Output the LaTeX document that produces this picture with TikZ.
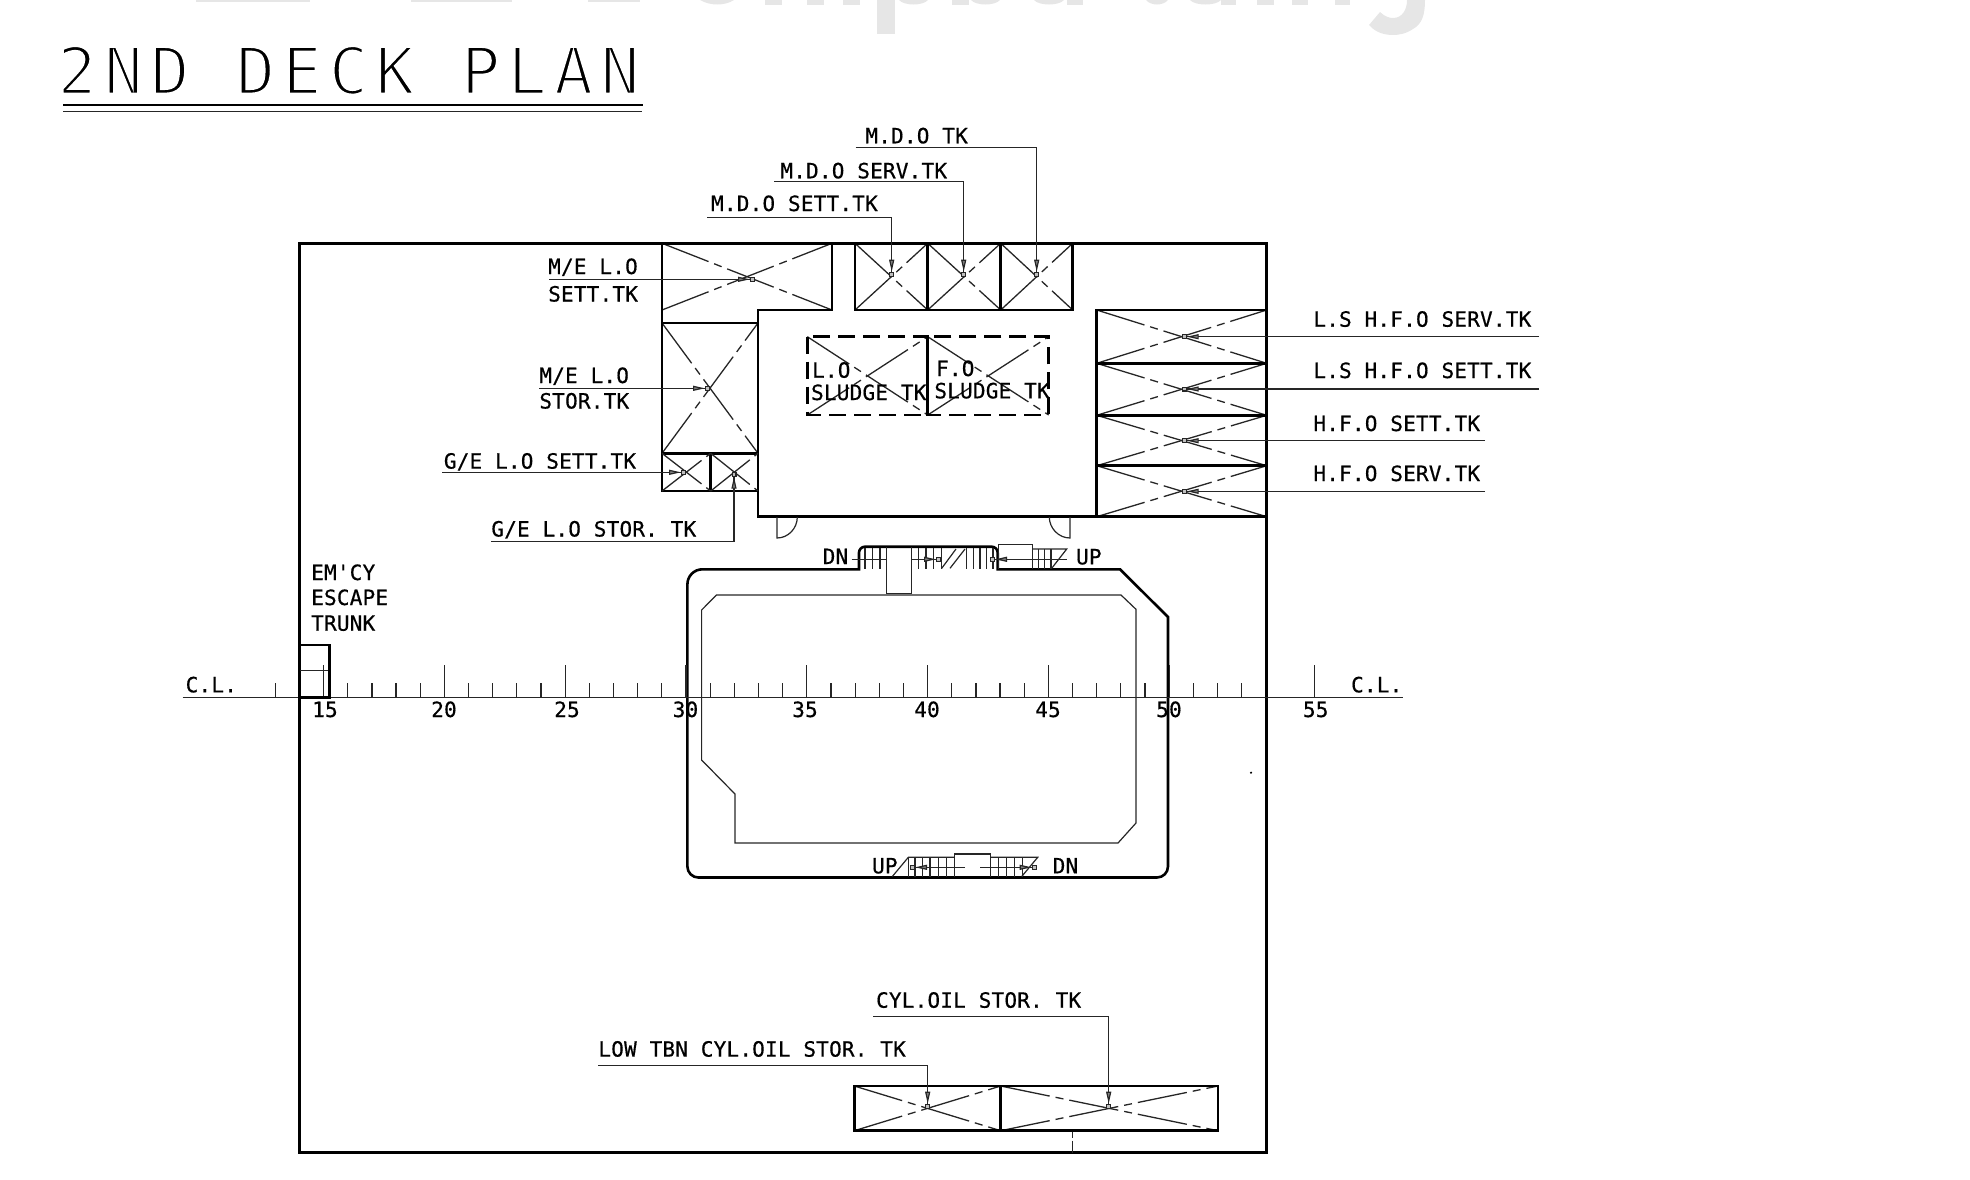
\documentclass[tikz,border=0pt]{standalone}
\usepackage{fontspec}
\usetikzlibrary{arrows.meta}
\newfontfamily\labfont[FakeBold=0.55,LetterSpace=1]{DejaVu Sans Mono}
\newfontfamily\ttlfont[LetterSpace=11.3]{DejaVu Sans Mono}
\definecolor{ink}{HTML}{262626}
\definecolor{wm}{HTML}{E6E6E6}
\tikzset{
 wall/.style={draw=black,line width=1.3pt,line join=miter},
 frameline/.style={draw=black,line width=1.45pt},
 thin line/.style={draw=ink,line width=0.6pt},
 crossline/.style={draw=ink,line width=0.65pt,dash pattern=on 25pt off 3pt on 4pt off 3pt},
 sludgebox/.style={draw=black,line width=1.25pt,dash pattern=on 8.5pt off 4pt},
 ptr/.style={draw=ink,line width=0.6pt,-{Triangle[length=6pt,width=2.5pt,fill=gray]Rectangle[length=2.5pt,width=2.5pt,fill=gray!50]}},
 lab/.style={font=\labfont\fontsize{10.5pt}{12pt}\selectfont,anchor=base west,inner sep=0pt,text=black},
 num/.style={font=\labfont\fontsize{10.5pt}{12pt}\selectfont,anchor=base,inner sep=0pt,text=black},
 wmark/.style={fill=wm,draw=none}
}
\newcommand{\tankx}[4]{\draw[crossline] (#1,#2)--(#3,#4); \draw[crossline] (#1,#4)--(#3,#2);}
\begin{document}
\begin{tikzpicture}[x=0.5pt,y=-0.5pt]
\useasboundingbox (0,0) rectangle (1970,1179);
% cut-off watermark at the top edge
\fill[wmark] (196,0) rectangle (310,2);
\fill[wmark] (411,0) rectangle (512,2);
\fill[wmark] (588,0) rectangle (640,2);
\fill[wmark] (700,0) .. controls (710,6) and (725,6) .. (734,0) -- cycle;
\foreach \a/\b in {765/782,807/824,843/860,952/969,1067/1083,1221/1236,1257/1274,1292/1308,1335/1350}
  \fill[wmark] (\a,0) rectangle (\b,5);
\fill[wmark] (877,0) rectangle (895,34);
\foreach \a/\b in {899/928,971/1000,1034/1064,1146/1168,1190/1221}
  \fill[wmark] (\a,0) .. controls (\a+5,6) and (\b-5,6) .. (\b,0) -- cycle;
\fill[wmark] (1425,0) .. controls (1425,15) and (1422,24) .. (1413,29) .. controls (1406,34) and (1398,35) .. (1393,35) .. controls (1385,35) and (1376,33) .. (1369,25) -- (1380,12) .. controls (1385,17) and (1390,18) .. (1393,18) .. controls (1402,18) and (1407,10) .. (1407,0) -- cycle;
% title
\node[anchor=base west,inner sep=0pt,font=\ttlfont\fontsize{32.5pt}{36pt}\selectfont] (title) at (57,94)
  {\special{pdf:code q 2 Tr 1 1 1 RG 1.3 w}2ND DECK PLAN\special{pdf:code Q}};
\draw[line width=1.2pt] (63,105)--(643,105);
\draw[draw=ink,line width=0.6pt] (63,111.7)--(642,111.7);
% tank crosses
\tankx{662}{243.3}{832}{310}
\draw[wall] (662,243.3)--(662,323)--(758,323)--(758,310)--(832,310)--(832,243.3);
\tankx{662}{323}{758}{453.3}
\draw[wall] (662,323)--(662,491)--(758,491)--(758,323);
\draw[wall] (662,453.3)--(758,453.3);
\draw[wall] (710.7,453.3)--(710.7,491);
\tankx{662}{453.3}{710.7}{491}
\tankx{710.7}{453.3}{758}{491}
\draw[wall] (758,491)--(758,516.7)--(1096.7,516.7);
\foreach \a/\b in {855/927.7,927.7/1000.7,1000.7/1072.7}{
  \tankx{\a}{243.3}{\b}{310}
  \draw[wall] (\a,243.3) rectangle (\b,310);
}
\foreach \a/\b in {310/363.3,363.3/415.3,415.3/465.7,465.7/516.7}{
  \tankx{1096.7}{\a}{1266.7}{\b}
  \draw[wall] (1096.7,\a) rectangle (1266.7,\b);
}
% outer frame
\draw[frameline] (299.5,243.3) rectangle (1266.7,1152.7);
% sludge tanks
\tankx{807.3}{336.7}{927.7}{415}
\tankx{927.7}{336.7}{1048.7}{415}
\draw[sludgebox] (807.3,336.7) rectangle (927.7,415);
\draw[sludgebox] (927.7,336.7) rectangle (1048.7,415);
\node[lab] (lo1) at (811.7,377.7) {L.O};
\node[lab] (lo2) at (810.7,400) {SLUDGE TK};
\node[lab] (fo1) at (935.7,376) {F.O};
\node[lab] (fo2) at (934,398.3) {SLUDGE TK};
% doors
\draw[thin line] (777,517)--(777,538) .. controls (788.3,538) and (797.3,528.3) .. (797.3,517);
\draw[thin line] (1070,517)--(1070,538) .. controls (1058.7,538) and (1049.3,528.3) .. (1049.3,517);
% engine casing
\draw[wall] (687.4,700) [rounded corners=7.5pt] -- (687.4,569.3) [sharp corners] -- (859,569.3) [rounded corners=3pt] -- (859,546.7) -- (997.7,546.7) [sharp corners] -- (997.7,569.3) -- (1120,569.3) -- (1168,617) [rounded corners=5.5pt] -- (1168,877.5) -- (687.4,877.5) -- cycle;
\draw[thin line] (701.6,610)--(716.5,595)--(1121,595)--(1136,609.3)--(1136,823)--(1118,843)--(735,843)--(735,794)--(701.6,760)--cycle;
% upper stairs
\foreach \t in {865,872.7,880,886.7,911.7,918.3,926,933.3,941.7,966.7,973.3,980,986.7,993}
  \draw[thin line] (\t,547.5)--(\t,569);
\draw[thin line] (941.7,568.3)--(956,549);
\draw[thin line] (950,568.3)--(965,549);
\draw[thin line] (886.7,547)--(886.7,593.3)--(911.7,593.3)--(911.7,547);
\coordinate (sa0) at (851.7,559.3); \coordinate (sa1) at (886.7,559.3);
\coordinate (sa2) at (911.7,559.3); \coordinate (sa3) at (941,559.3);
\draw[thin line] (sa0)--(sa1);
\draw[ptr] (sa2)--(sa3);
\draw[thin line] (998.3,569.3)--(998.3,544.3)--(1032.3,544.3)--(1032.3,569.3);
\foreach \t in {1038.3,1044.3,1051}
  \draw[thin line] (\t,549)--(\t,569);
\draw[thin line] (1032.3,549)--(1066.7,549)--(1051.7,568.3);
\coordinate (sb0) at (1066.7,559.3); \coordinate (sb1) at (990,559.3);
\draw[ptr] (sb0)--(sb1);
\node[lab] (dnt) at (822.3,564) {DN};
\node[lab] (upt) at (1075.7,564.3) {UP};
% lower stairs
\draw[thin line] (892.3,876.5)--(908.3,857.3)--(954.3,857.3);
\foreach \t in {908.3,915,922.3,930,938.3,946.7,998.3,1006.7,1014.3,1022.3}
  \draw[thin line] (\t,857.3)--(\t,877);
\draw[thin line] (990.7,857.3)--(1037.7,857.3)--(1021.7,876.5);
\draw[thin line] (954.3,877)--(954.3,854)--(990.7,854)--(990.7,877);
\coordinate (sc0) at (965,867.3); \coordinate (sc1) at (910,867.3);
\coordinate (sd0) at (980,867.3); \coordinate (sd1) at (1036.7,867.3);
\draw[ptr] (sc0)--(sc1);
\draw[ptr] (sd0)--(sd1);
\node[lab] (upb) at (871.7,873.3) {UP};
\node[lab] (dnb) at (1052.3,873.3) {DN};
% centre line and frames
\coordinate (cla) at (182.6,697.5); \coordinate (clb) at (1402.7,697.5);
\draw[thin line] (cla)--(clb);
\foreach \n in {13,...,53}{
  \pgfmathsetmacro{\xx}{444.4+(\n-20)*24.16}
  \pgfmathtruncatemacro{\md}{mod(\n,5)}
  \ifnum\md=0
    \draw[thin line] (\xx,697.5)--(\xx,665);
  \else
    \draw[thin line] (\xx,697.5)--(\xx,682.5);
  \fi
}
\draw[thin line] (1314.3,697.5)--(1314.3,665);
\foreach \v/\p in {15/325,20/444,25/567,30/685.5,35/805,40/927,45/1048,50/1169,55/1315.7}
  \node[num] (fr\v) at (\p,717) {\v};
\node[lab] (cll) at (185.3,692.3) {C.L.};
\node[lab] (clr) at (1350.7,692.3) {C.L.};
% escape trunk
\draw[wall] (299.5,645) rectangle (329.2,697.5);
\draw[thin line] (300,670.7)--(328,670.7);
\node[lab] (em1) at (310.8,580) {EM'CY};
\node[lab] (em2) at (310.8,605) {ESCAPE};
\node[lab] (em3) at (310.8,630.7) {TRUNK};
% bottom tanks
\tankx{854.3}{1086}{1000.7}{1130.7}
\tankx{1000.7}{1086}{1218}{1130.7}
\draw[wall] (854.3,1086) rectangle (1000.7,1130.7);
\draw[wall] (1000.7,1086) rectangle (1218,1130.7);
\draw[thin line,dash pattern=on 3pt off 1.5pt on 30pt] (1072.3,1131.7)--(1072.3,1153);
\fill (1251,772.7) circle (0.6pt);
% leader targets
\coordinate (mdo3) at (1036.7,276.7);
\coordinate (mdo2) at (963.7,276.7);
\coordinate (mdo1) at (891.7,276.7);
\coordinate (mesett) at (755,279.3);
\coordinate (mestor) at (710,388.3);
\coordinate (gesett) at (686,472.3);
\coordinate (gestor) at (734,471.7);
\coordinate (ls1) at (1181.7,336.7);
\coordinate (ls2) at (1181.7,389);
\coordinate (ls3) at (1181.7,440.7);
\coordinate (ls4) at (1181.7,491.3);
\coordinate (low) at (927.7,1108.7);
\coordinate (cyl) at (1108.7,1108.7);
% leader starts
\coordinate (mdo3s) at (855.7,147.7);
\coordinate (mdo2s) at (774,181.7);
\coordinate (mdo1s) at (707.3,217.3);
\coordinate (mesetts) at (549,279.3);
\coordinate (mestors) at (539,388.3);
\coordinate (gesetts) at (442,472.3);
\coordinate (gestors) at (491,541.5);
\coordinate (ls1s) at (1539,336.7);
\coordinate (ls2s) at (1539,389);
\coordinate (ls3s) at (1485,440.7);
\coordinate (ls4s) at (1485,491.3);
\coordinate (lows) at (598,1065.4);
\coordinate (cyls) at (873,1016.5);
% leaders
\draw[ptr] (mdo3s)-|(mdo3);
\draw[ptr] (mdo2s)-|(mdo2);
\draw[ptr] (mdo1s)-|(mdo1);
\draw[ptr] (mesetts)--(mesett);
\draw[ptr] (mestors)--(mestor);
\draw[ptr] (gesetts)--(gesett);
\draw[ptr] (gestors)-|(gestor);
\draw[ptr] (ls1s)--(ls1);
\draw[ptr] (ls2s)--(ls2);
\draw[ptr] (ls3s)--(ls3);
\draw[ptr] (ls4s)--(ls4);
\draw[ptr] (lows)-|(low);
\draw[ptr] (cyls)-|(cyl);
% labels
\node[lab] (t1) at (865,143.3) {M.D.O TK};
\node[lab] (t2) at (780,178.3) {M.D.O SERV.TK};
\node[lab] (t3) at (710.7,211) {M.D.O SETT.TK};
\node[lab] (t4) at (547.8,274) {M/E L.O};
\node[lab] (t5) at (547.8,301.5) {SETT.TK};
\node[lab] (t6) at (539,383) {M/E L.O};
\node[lab] (t7) at (539,408.5) {STOR.TK};
\node[lab] (t8) at (443.5,468.6) {G/E L.O SETT.TK};
\node[lab] (t9) at (491,536.5) {G/E L.O STOR. TK};
\node[lab] (r1) at (1313,326.7) {L.S H.F.O SERV.TK};
\node[lab] (r2) at (1313,378) {L.S H.F.O SETT.TK};
\node[lab] (r3) at (1313,431) {H.F.O SETT.TK};
\node[lab] (r4) at (1313,481) {H.F.O SERV.TK};
\node[lab] (b1) at (875.7,1007.7) {CYL.OIL STOR. TK};
\node[lab] (b2) at (598,1056.6) {LOW TBN CYL.OIL STOR. TK};
\end{tikzpicture}
\end{document}
